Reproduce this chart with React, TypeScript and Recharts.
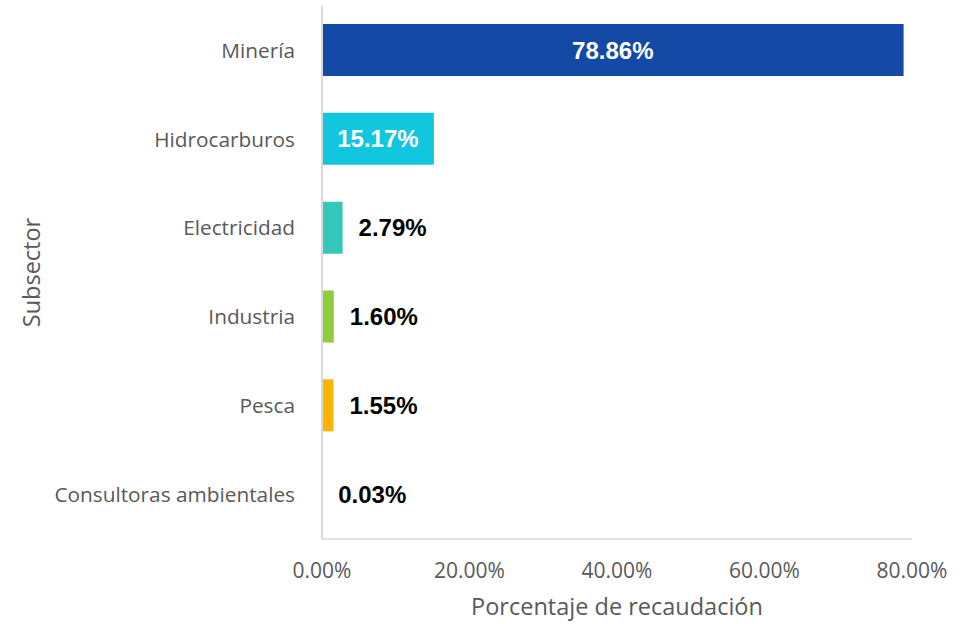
import { Bar, BarChart, Cell, LabelList, XAxis, YAxis } from 'recharts';

const subsectors = [
  'Minería',
  'Hidrocarburos',
  'Electricidad',
  'Industria',
  'Pesca',
  'Consultoras ambientales',
];
const shares = [78.86, 15.17, 2.79, 1.6, 1.55, 0.03];
const barColors = ['#144AA6', '#12C6E0', '#35C8BA', '#8ECE3D', '#FFB401'];
const xTicks = [0, 20, 40, 60, 80];

const data = subsectors.map((name, i) => ({
  name,
  value: shares[i],
  color: barColors[i] ?? '#cccccc',
}));

const GRAY = '#595959';
const AXIS = '#d9d9d9';
const FONT = '"Open Sans", sans-serif';

interface LabelProps {
  x?: number;
  y?: number;
  width?: number;
  height?: number;
  value?: number;
}

// Large bars get a white label centred inside; small ones sit just past the end.
function ValueLabel({ x = 0, y = 0, width = 0, height = 0, value = 0 }: LabelProps) {
  const inside = value > 10;
  const text = `${value.toFixed(2)}%`;
  return (
    <text
      x={inside ? x + width / 2 : x + width + 16}
      y={y + height / 2}
      dy="0.36em"
      textAnchor={inside ? 'middle' : 'start'}
      fill={inside ? '#ffffff' : '#000000'}
      fontFamily='"Liberation Sans", Arial, sans-serif'
      fontWeight={700}
      fontSize={24}
    >
      {text}
    </text>
  );
}

export default function App() {
  return (
    <div style={{ position: 'absolute', left: 0, top: 0, background: '#fff' }}>
      <BarChart
        width={970}
        height={624}
        data={data}
        layout="vertical"
        margin={{ top: 6, right: 58, bottom: 0, left: 0 }}
      >
        <XAxis
          type="number"
          domain={[0, 80]}
          ticks={xTicks}
          tickFormatter={(v: number) => `${v.toFixed(2)}%`}
          axisLine={{ stroke: AXIS, strokeWidth: 1.5 }}
          tickLine={false}
          tickSize={0}
          tickMargin={24}
          height={85}
          tick={{ fill: GRAY, fontSize: 21, fontFamily: FONT }}
          label={{
            value: 'Porcentaje de recaudación',
            position: 'insideBottom',
            offset: 9,
            fill: GRAY,
            fontSize: 23.5,
            fontFamily: FONT,
          }}
        />
        <YAxis
          type="category"
          dataKey="name"
          width={322}
          axisLine={{ stroke: AXIS, strokeWidth: 2 }}
          tickLine={false}
          tickSize={0}
          tickMargin={27}
          tick={{ fill: GRAY, fontSize: 20.8, fontFamily: FONT }}
          label={{
            value: 'Subsector',
            angle: -90,
            position: 'insideLeft',
            offset: 32,
            fill: GRAY,
            fontSize: 23.5,
            fontFamily: FONT,
            style: { textAnchor: 'middle' },
          }}
        />
        <Bar dataKey="value" barSize={52} isAnimationActive={false}>
          {data.map((d) => (
            <Cell key={d.name} fill={d.color} />
          ))}
          <LabelList dataKey="value" content={<ValueLabel />} />
        </Bar>
      </BarChart>
    </div>
  );
}
